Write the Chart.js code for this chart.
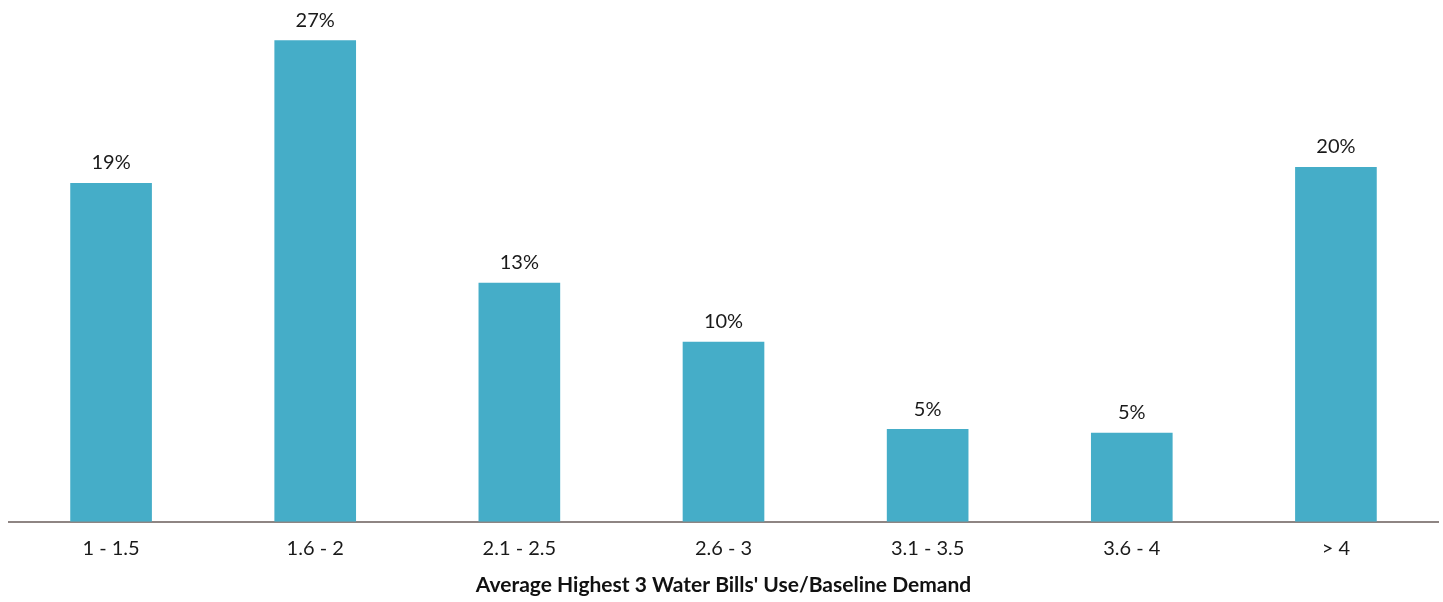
<!DOCTYPE html>
<html>
<head>
<meta charset="utf-8">
<script src="https://cdn.jsdelivr.net/npm/chart.js@4"></script>
<style>
html,body{margin:0;padding:0;background:#fff;}
#wrap{width:1443px;height:602px;position:relative;}
</style>
</head>
<body>
<div id="wrap"><canvas id="c" width="1443" height="602"></canvas></div>
<script>
const categories = ['1 - 1.5', '1.6 - 2', '2.1 - 2.5', '2.6 - 3', '3.1 - 3.5', '3.6 - 4', '> 4'];
const shares = [19.0, 27.0, 13.4, 10.1, 5.2, 5.0, 19.9];
const axisTitle = "Average Highest 3 Water Bills' Use/Baseline Demand";

const labelPlugin = {
  id: 'barLabels',
  afterDatasetsDraw(chart) {
    const ctx = chart.ctx;
    const meta = chart.getDatasetMeta(0);
    ctx.save();
    ctx.font = '20px Lato, "Open Sans", sans-serif';
    ctx.fillStyle = '#1a1a1a';
    ctx.textAlign = 'center';
    ctx.textBaseline = 'bottom';
    meta.data.forEach((bar, i) => {
      ctx.fillText(Math.round(shares[i]) + '%', bar.x, bar.y - 10);
    });
    ctx.restore();
  }
};

new Chart(document.getElementById('c'), {
  type: 'bar',
  data: {
    labels: categories,
    datasets: [{
      data: shares,
      backgroundColor: '#45adc8',
      barPercentage: 0.4,
      categoryPercentage: 1.0
    }]
  },
  options: {
    responsive: false,
    animation: false,
    layout: { padding: { left: 9, right: 5, top: 10, bottom: 0 } },
    plugins: { legend: { display: false }, tooltip: { enabled: false } },
    scales: {
      x: {
        grid: { display: false, drawTicks: false },
        border: { display: true, color: '#8e8583', width: 2 },
        ticks: { color: '#1a1a1a', font: { family: 'Lato, "Open Sans", sans-serif', size: 20 }, padding: 15 },
        title: { display: true, text: axisTitle, color: '#111', font: { family: 'Lato, "Open Sans", sans-serif', size: 21, weight: 'bold' }, padding: { top: -3, bottom: 4 } }
      },
      y: {
        display: false,
        min: 0,
        max: 28.7
      }
    }
  },
  plugins: [labelPlugin]
});
</script>
</body>
</html>
